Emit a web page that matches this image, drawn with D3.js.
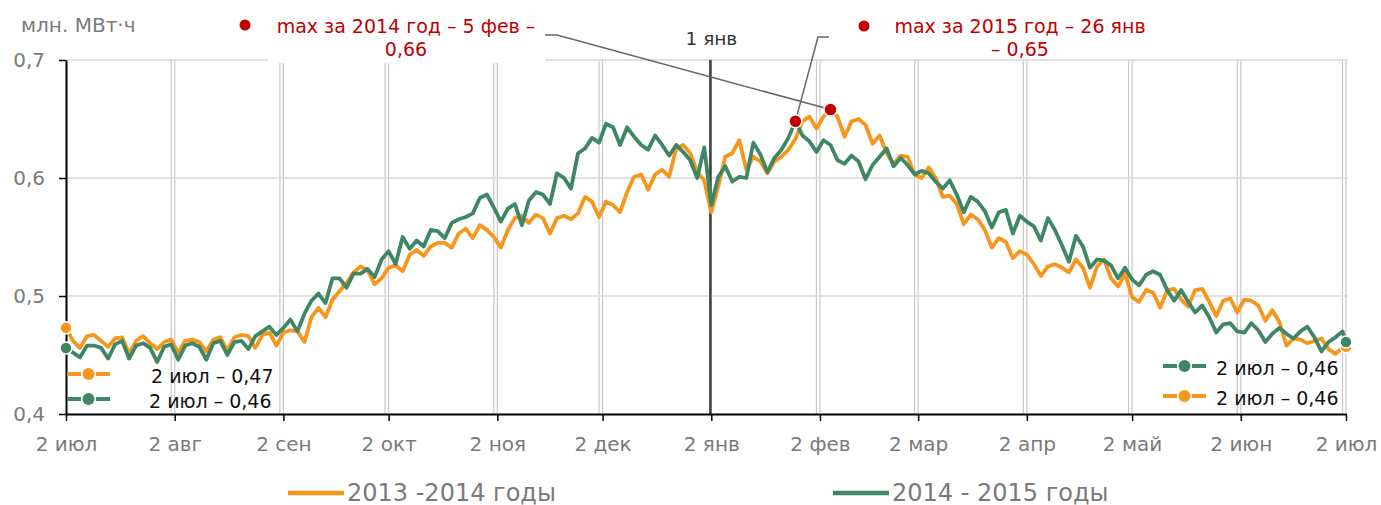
<!DOCTYPE html>
<html>
<head>
<meta charset="utf-8">
<script src="https://cdn.jsdelivr.net/npm/d3@7"></script>
<style>
  body { margin: 0; background: #fff; }
  svg { display: block; font-family: "DejaVu Sans", Verdana, sans-serif; }
  .grid-v line { stroke: #c8c8c8; stroke-width: 1.2; }
  .grid-h line { stroke: #d9d9d9; stroke-width: 1.5; }
  .axis path, .axis line { stroke: #000; }
  .axis path { stroke-width: 2; }
  .axis line { stroke-width: 1.5; }
  .axis text { fill: #7a7a7a; font-size: 20px; font-family: "DejaVu Sans", Verdana, sans-serif; }
</style>
</head>
<body>
<div id="chart"></div>
<script>
// --- data: 2 июл .. 2 июл, every second day, last point = day 365
const startDay = new Date(Date.UTC(2013, 6, 2));
const dayOffsets = d3.range(0, 365, 2).concat([365]);

const monthNames = ["янв", "фев", "мар", "апр", "май", "июн", "июл", "авг", "сен", "окт", "ноя", "дек"];
const yTicks = [0.4, 0.5, 0.6, 0.7];
const seriesNames = ["2013 -2014 годы", "2014 - 2015 годы"];
const maxYears = ["2014", "2015"];

const values1314 = [
  .473, .462, .456, .466, .467, .462, .457, .464, .465, .451,
  .462, .466, .460, .455, .461, .463, .452, .462, .463, .461,
  .453, .463, .465, .454, .465, .467, .466, .456, .467, .469,
  .458, .469, .471, .470, .461, .482, .490, .482, .497, .504,
  .511, .520, .525, .522, .510, .515, .524, .526, .521, .535,
  .539, .534, .542, .545, .545, .541, .553, .557, .549, .560,
  .556, .550, .541, .556, .566, .568, .562, .569, .566, .553,
  .566, .568, .565, .570, .584, .580, .567, .580, .577, .571,
  .588, .601, .603, .590, .603, .607, .601, .625, .628, .621,
  .605, .598, .571, .593, .618, .621, .632, .607, .618, .614,
  .604, .614, .618, .624, .633, .648, .652, .642, .652, .658,
  .652, .635, .648, .650, .645, .629, .636, .621, .612, .619,
  .618, .603, .600, .609, .600, .584, .585, .578, .561, .569,
  .565, .556, .541, .549, .546, .532, .538, .535, .527, .517,
  .525, .527, .524, .520, .531, .524, .507, .525, .531, .515,
  .508, .519, .499, .495, .505, .503, .490, .505, .506, .497,
  .491, .505, .506, .495, .483, .496, .498, .486, .497, .496,
  .492, .479, .488, .478, .458, .464, .463, .460, .462, .464,
  .455, .451, .456, .457
];

const values1415 = [
  .456, .452, .448, .458, .458, .456, .447, .459, .462, .447,
  .458, .460, .456, .444, .457, .459, .446, .458, .460, .457,
  .446, .460, .462, .450, .461, .462, .455, .466, .470, .474,
  .467, .473, .480, .470, .485, .496, .502, .494, .515, .515,
  .507, .519, .519, .523, .516, .531, .538, .527, .550, .540,
  .547, .542, .556, .555, .549, .562, .565, .567, .570, .583,
  .586, .575, .563, .574, .578, .560, .581, .588, .586, .578,
  .604, .600, .591, .621, .625, .634, .630, .646, .643, .628,
  .643, .635, .628, .624, .636, .628, .619, .628, .622, .615,
  .600, .626, .577, .601, .610, .597, .601, .600, .630, .620,
  .605, .617, .624, .634, .648, .636, .631, .622, .632, .628,
  .615, .612, .619, .614, .599, .611, .618, .625, .610, .617,
  .611, .603, .606, .604, .597, .591, .598, .586, .571, .584,
  .580, .572, .558, .571, .573, .553, .568, .563, .559, .547,
  .566, .556, .543, .529, .551, .542, .524, .531, .530, .526,
  .515, .524, .514, .509, .518, .521, .518, .505, .496, .505,
  .495, .486, .492, .482, .469, .476, .477, .470, .469, .477,
  .471, .461, .468, .473, .468, .464, .470, .474, .465, .453,
  .461, .465, .470, .461
];

const colors = ["#F7961D", "#3F8664"];
const red = "#C00000";

// --- layout
const width = 1381, height = 505;
const margin = { top: 60, right: 35, bottom: 91, left: 66 };
const innerWidth = width - margin.left - margin.right;
const innerHeight = height - margin.top - margin.bottom;

const svg = d3.select("#chart").append("svg")
  .attr("width", width)
  .attr("height", height);

const g = svg.append("g").attr("transform", `translate(${margin.left},${margin.top})`);

const dates = dayOffsets.map(d => d3.utcDay.offset(startDay, d));
const endDay = d3.utcDay.offset(startDay, 365);

const x = d3.scaleUtc().domain([startDay, endDay]).range([0, innerWidth]);
const y = d3.scaleLinear().domain([0.4, 0.7]).range([innerHeight, 0]);

const comma = v => d3.format(".2f")(v).replace(".", ",");
const dayLabel = d => d.getUTCDate() + " " + monthNames[d.getUTCMonth()];

// month ticks on the 2nd
const tickDates = d3.utcMonth.range(d3.utcMonth.floor(startDay), d3.utcDay.offset(endDay, 1))
  .map(m => d3.utcDay.offset(m, 1));

// vertical grid: 1st and 2nd of each month (double lines)
const gridDates = [];
tickDates.forEach(t => {
  const first = d3.utcDay.offset(t, -1);
  if (first >= startDay && first.getUTCMonth() !== 0) gridDates.push(first);
  gridDates.push(t);
});
g.append("g").attr("class", "grid-v")
  .selectAll("line").data(gridDates.filter(d => +d !== +startDay)).join("line")
  .attr("x1", d => x(d)).attr("x2", d => x(d))
  .attr("y1", 0).attr("y2", innerHeight);

g.append("g").attr("class", "grid-h")
  .selectAll("line").data(yTicks.slice(1)).join("line")
  .attr("x1", 0).attr("x2", innerWidth + 2)
  .attr("y1", d => y(d)).attr("y2", d => y(d));

// 1 янв marker line
const jan1 = new Date(Date.UTC(2014, 0, 1, 18));
g.append("line")
  .attr("x1", x(jan1)).attr("x2", x(jan1))
  .attr("y1", 0).attr("y2", innerHeight)
  .attr("stroke", "#444").attr("stroke-width", 2.6);

svg.append("text")
  .attr("x", margin.left + x(jan1) + 1).attr("y", 45)
  .attr("text-anchor", "middle")
  .attr("fill", "#333").style("font-size", "18.5px")
  .text("1 янв");

// white box behind first max label
svg.append("rect")
  .attr("x", 268).attr("y", 0).attr("width", 277).attr("height", 63)
  .attr("fill", "#fff");

// axes
g.append("g").attr("class", "axis")
  .call(d3.axisLeft(y).tickValues(yTicks).tickSize(7).tickSizeOuter(0).tickPadding(14)
    .tickFormat(d => d.toFixed(1).replace(".", ",")));

g.append("g").attr("class", "axis")
  .attr("transform", `translate(0,${innerHeight})`)
  .call(d3.axisBottom(x).tickValues(tickDates).tickSize(7).tickSizeOuter(0).tickPadding(16)
    .tickFormat(dayLabel));

svg.append("text")
  .attr("x", 21).attr("y", 32)
  .attr("fill", "#7a7a7a").style("font-size", "20px")
  .text("млн. МВт·ч");

// lines
const series = [values1314, values1415];
const line = d3.line()
  .x((d, i) => x(dates[i]))
  .y(d => y(d));

series.forEach((vals, k) => {
  g.append("path")
    .datum(vals)
    .attr("fill", "none")
    .attr("stroke", colors[k])
    .attr("stroke-width", 3.8)
    .attr("stroke-linejoin", "round")
    .attr("d", line);
});

// start and end dots
series.forEach((vals, k) => {
  [0, vals.length - 1].forEach(i => {
    g.append("circle")
      .attr("cx", x(dates[i])).attr("cy", y(vals[i]))
      .attr("r", 6)
      .attr("fill", colors[k])
      .attr("stroke", "#fff").attr("stroke-width", 1.5);
  });
});

// max markers with callouts
const maxIdx = series.map(vals => d3.maxIndex(vals));
const maxPts = maxIdx.map((i, k) => [margin.left + x(dates[i]), margin.top + y(series[k][i])]);

svg.append("path")
  .attr("d", `M545,35 L557,35 L${maxPts[0][0]},${maxPts[0][1]}`)
  .attr("fill", "none").attr("stroke", "#666").attr("stroke-width", 1.5);
svg.append("path")
  .attr("d", `M${maxPts[1][0]},${maxPts[1][1]} L818,37 L829,37`)
  .attr("fill", "none").attr("stroke", "#666").attr("stroke-width", 1.5);

maxPts.forEach(p => {
  svg.append("circle")
    .attr("cx", p[0]).attr("cy", p[1]).attr("r", 6.5)
    .attr("fill", red).attr("stroke", "#fff").attr("stroke-width", 1.5);
});

const maxLabels = [
  { dot: [245, 25], cx: 406, lines: [`max за ${maxYears[0]} год – ${dayLabel(dates[maxIdx[0]])} –`, comma(series[0][maxIdx[0]])] },
  { dot: [864, 26], cx: 1020, lines: [`max за ${maxYears[1]} год – ${dayLabel(dates[maxIdx[1]])}`, "– " + comma(series[1][maxIdx[1]])] }
];
maxLabels.forEach(lb => {
  svg.append("circle").attr("cx", lb.dot[0]).attr("cy", lb.dot[1]).attr("r", 5.5).attr("fill", red);
  lb.lines.forEach((t, j) => {
    svg.append("text")
      .attr("x", lb.cx).attr("y", 33 + j * 23)
      .attr("text-anchor", "middle")
      .attr("fill", red).style("font-size", "19px")
      .text(t);
  });
});

// start / end value labels
function valueKey(x0, yy, color, label, textX) {
  svg.append("line").attr("x1", x0).attr("x2", x0 + 14).attr("y1", yy).attr("y2", yy)
    .attr("stroke", color).attr("stroke-width", 4);
  svg.append("line").attr("x1", x0 + 29).attr("x2", x0 + 43).attr("y1", yy).attr("y2", yy)
    .attr("stroke", color).attr("stroke-width", 4);
  svg.append("circle").attr("cx", x0 + 21.5).attr("cy", yy).attr("r", 6).attr("fill", color);
  svg.append("text").attr("x", textX).attr("y", yy + 9)
    .attr("fill", "#111").style("font-size", "19px")
    .text(label);
}
const last = values1314.length - 1;
valueKey(67, 374, colors[0], `${dayLabel(dates[0])} – ${comma(values1314[0])}`, 151);
valueKey(67, 399, colors[1], `${dayLabel(dates[0])} – ${comma(values1415[0])}`, 149);
valueKey(1163, 366, colors[1], `${dayLabel(dates[last])} – ${comma(values1415[last])}`, 1216);
valueKey(1163, 396, colors[0], `${dayLabel(dates[last])} – ${comma(values1314[last])}`, 1216);

// bottom legend
const legendX = [288, 833];
seriesNames.forEach((name, k) => {
  svg.append("line")
    .attr("x1", legendX[k]).attr("x2", legendX[k] + 56)
    .attr("y1", 493).attr("y2", 493)
    .attr("stroke", colors[k]).attr("stroke-width", 4.5);
  svg.append("text")
    .attr("x", legendX[k] + 59).attr("y", 501)
    .attr("fill", "#7a7a7a").style("font-size", "24px")
    .text(name);
});
</script>
</body>
</html>
